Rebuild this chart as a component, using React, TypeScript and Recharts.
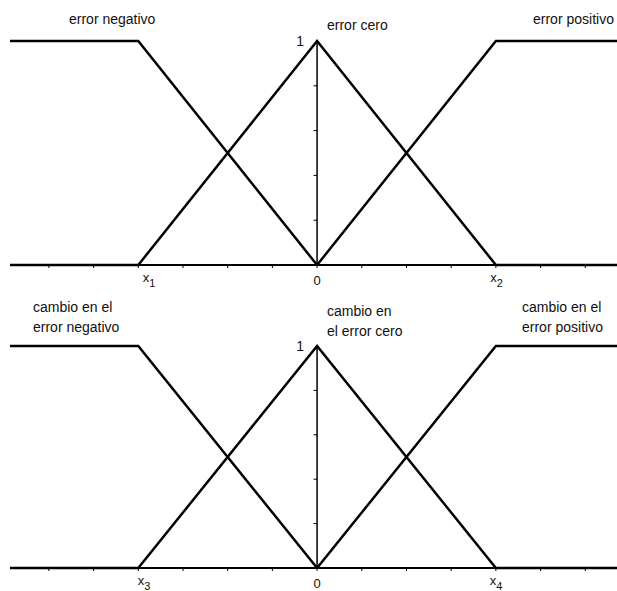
import React from 'react'
import { LineChart, Line, XAxis, YAxis, ReferenceLine, ReferenceDot } from 'recharts'

// eje x: las marcas van de -6 a 6, x1/x3 en -4 y x2/x4 en 4
const X_DOMAIN = [-6.87, 6.71]
const X_TICKS = [-6, -5, -4, -3, -2, -1, 0, 1, 2, 3, 4, 5, 6]
const Y_MINOR = [0.2, 0.4, 0.6, 0.8]

// funciones de pertenencia
const negX = [-6.87, -4, 0]
const negY = [1, 1, 0]
const ceroX = [-6.87, -4, 0, 4, 6.71]
const ceroY = [0, 0, 1, 0, 0]
const posX = [0, 4, 6.71]
const posY = [0, 1, 1]

const topTickLabels: Record<number, [string, string]> = { [-4]: ['x', '1'], 0: ['0', ''], 4: ['x', '2'] }
const bottomTickLabels: Record<number, [string, string]> = { [-4]: ['x', '3'], 0: ['0', ''], 4: ['x', '4'] }

const topTitles = [['error negativo'], ['error cero'], ['error positivo']]
const bottomTitles = [
  ['cambio en el', 'error negativo'],
  ['cambio en', 'el error cero'],
  ['cambio en el', 'error positivo'],
]

const toPoints = (xs: number[], ys: number[]) => xs.map((x, i) => ({ x, y: ys[i] }))
const negData = toPoints(negX, negY)
const ceroData = toPoints(ceroX, ceroY)
const posData = toPoints(posX, posY)

const FONT = '"Liberation Sans", Arial, sans-serif'

function makeTick(labels: Record<number, [string, string]>, shift: Record<number, number>) {
  return (props: any) => {
    const { x, y, payload } = props
    const lab = labels[payload.value]
    if (!lab) return null
    const [main, sub] = lab
    if (!sub) {
      return (
        <text x={x} y={y + 15} textAnchor="middle" fontSize={13} fill="#111" fontFamily={FONT}>
          {main}
        </text>
      )
    }
    return (
      <text x={x + (shift[payload.value] || 0)} y={y + 12} textAnchor="start" fontSize={13} fill="#111" fontFamily={FONT}>
        {main}
        <tspan dy={4.5} fontSize={11}>{sub}</tspan>
      </text>
    )
  }
}

function Panel({ top, height, marginTop, axisHeight, tick }: any) {
  return (
    <div style={{ position: 'absolute', left: 0, top }}>
      <LineChart width={617} height={height} margin={{ top: marginTop, right: 0, left: 10, bottom: 0 }}>
        <XAxis
          type="number"
          dataKey="x"
          domain={X_DOMAIN}
          ticks={X_TICKS}
          interval={0}
          height={axisHeight}
          axisLine={{ stroke: '#000', strokeWidth: 2 }}
          tickLine={{ stroke: '#000', strokeWidth: 1 }}
          tickSize={3}
          tick={tick}
        />
        <YAxis type="number" dataKey="y" domain={[0, 1]} hide />
        <ReferenceLine x={0} stroke="#000" strokeWidth={1.5} />
        {Y_MINOR.map((v) => (
          <ReferenceLine
            key={v}
            segment={[{ x: -0.08, y: v }, { x: 0, y: v }]}
            stroke="#000"
            strokeWidth={1}
          />
        ))}
        <Line data={ceroData} dataKey="y" type="linear" stroke="#000" strokeWidth={2.5} dot={false} isAnimationActive={false} />
        <Line data={negData} dataKey="y" type="linear" stroke="#000" strokeWidth={2.5} dot={false} isAnimationActive={false} />
        <Line data={posData} dataKey="y" type="linear" stroke="#000" strokeWidth={2.5} dot={false} isAnimationActive={false} />
        <ReferenceDot
          x={0}
          y={1}
          r={0}
          fill="none"
          stroke="none"
          label={{ value: '1', position: 'left', offset: 13, fontSize: 14, fill: '#111', fontFamily: FONT }}
        />
      </LineChart>
    </div>
  )
}

export default function App() {
  // posiciones de los títulos (x, línea base)
  const topPos = [[69, 24], [327, 30], [533, 24]]
  const bottomPos = [[33, 312], [327, 316], [522, 312]]
  return (
    <div style={{ position: 'absolute', left: 0, top: 0, width: 617, height: 591, background: '#fff', fontFamily: FONT, overflow: 'hidden' }}>
      <Panel top={0} height={300} marginTop={41} axisHeight={35} tick={makeTick(topTickLabels, { [-4]: 4.5, 4: -5.5 })} />
      <Panel top={300} height={291} marginTop={46} axisHeight={23} tick={makeTick(bottomTickLabels, { [-4]: -0.5, 4: -6 })} />
      <svg width={617} height={591} style={{ position: 'absolute', left: 0, top: 0, pointerEvents: 'none' }}>
        {topTitles.map((lines, i) =>
          lines.map((t, j) => (
            <text key={`t${i}${j}`} x={topPos[i][0]} y={topPos[i][1] + j * 20} fontSize={14} fill="#111" fontFamily={FONT}>
              {t}
            </text>
          ))
        )}
        {bottomTitles.map((lines, i) =>
          lines.map((t, j) => (
            <text key={`b${i}${j}`} x={bottomPos[i][0]} y={bottomPos[i][1] + j * 20} fontSize={14} fill="#111" fontFamily={FONT}>
              {t}
            </text>
          ))
        )}
      </svg>
    </div>
  )
}
